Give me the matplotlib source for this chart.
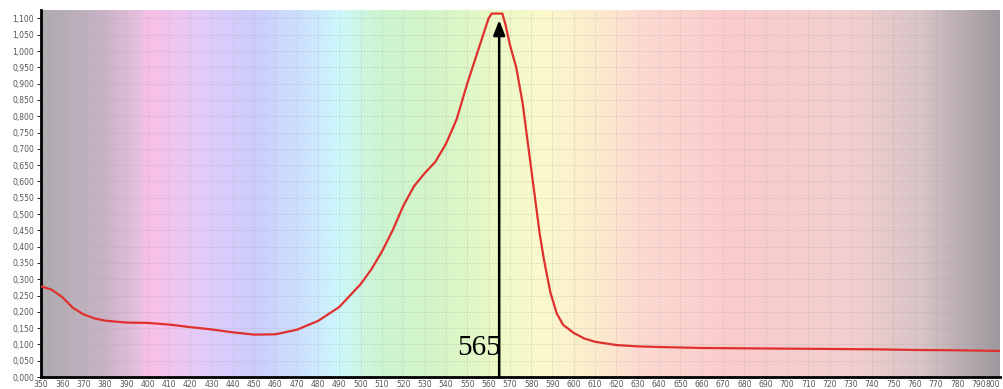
import numpy as np
import matplotlib.pyplot as plt
from matplotlib.colors import LinearSegmentedColormap
from matplotlib.ticker import MultipleLocator, FuncFormatter

# spectrum (wavelength nm, absorbance)
wavelength = [350, 355, 360, 365, 370, 375, 380, 390, 400, 410, 420, 430, 440,
              450, 460, 470, 480, 490, 500, 505, 510, 515, 520, 525, 530, 535,
              540, 545, 550, 555, 558, 560, 561.5, 566.5, 568, 570, 573, 576,
              578, 580, 582, 584, 586, 589, 592, 595, 600, 605, 610, 620, 630,
              640, 660, 680, 700, 720, 740, 760, 780, 800]
absorbance = [0.278, 0.268, 0.245, 0.212, 0.192, 0.180, 0.173, 0.167, 0.166,
              0.161, 0.153, 0.146, 0.137, 0.130, 0.131, 0.145, 0.172, 0.215,
              0.285, 0.330, 0.385, 0.450, 0.525, 0.585, 0.625, 0.660, 0.715,
              0.790, 0.900, 1.000, 1.060, 1.100, 1.115, 1.115, 1.080, 1.020,
              0.950, 0.840, 0.740, 0.640, 0.540, 0.440, 0.360, 0.260, 0.195,
              0.160, 0.135, 0.118, 0.108, 0.098, 0.094, 0.092, 0.089, 0.088,
              0.087, 0.086, 0.085, 0.083, 0.082, 0.080]
x_ticks = list(range(350, 801, 10))
peak_nm = 565
peak_label = "565"

# pastel spectrum backdrop
bg_stops = [(0.00, (0.68, 0.67, 0.69)), (0.06, (0.78, 0.70, 0.77)),
            (0.10, (0.90, 0.75, 0.87)), (0.11, (0.98, 0.75, 0.90)),
            (0.17, (0.88, 0.80, 0.98)), (0.22, (0.80, 0.80, 0.99)),
            (0.27, (0.80, 0.88, 0.99)), (0.31, (0.80, 0.97, 0.99)),
            (0.35, (0.80, 0.96, 0.82)), (0.42, (0.84, 0.96, 0.78)),
            (0.48, (0.93, 0.98, 0.78)), (0.52, (0.98, 0.98, 0.80)),
            (0.58, (0.99, 0.92, 0.80)), (0.63, (0.99, 0.85, 0.82)),
            (0.72, (0.98, 0.80, 0.80)), (0.85, (0.95, 0.81, 0.81)),
            (0.92, (0.85, 0.77, 0.78)), (1.00, (0.62, 0.60, 0.62))]
cmap = LinearSegmentedColormap.from_list("spec", bg_stops)

fig = plt.figure(figsize=(10.04, 3.89), dpi=100)
ax = fig.add_axes([41 / 1004, 12 / 389, 959 / 1004, 367 / 389])

ax.imshow(np.linspace(0, 1, 500)[None, :], cmap=cmap, aspect="auto",
          extent=[350, 800, 0, 1.126], zorder=0)

ax.plot(wavelength, absorbance, color="#e0302e", lw=1.6, zorder=3)

ax.annotate("", xy=(peak_nm, 1.095), xytext=(peak_nm, 0),
            arrowprops=dict(arrowstyle="-|>,head_width=0.35,head_length=0.9",
                            color="black", lw=1.8, shrinkA=0, shrinkB=0),
            zorder=4)
ax.text(peak_nm + 0.6, 0.068, peak_label, ha="right", va="baseline",
        fontsize=21, family="Liberation Serif", color="black", zorder=5)

ax.set_xlim(350, 800)
ax.set_ylim(0, 1.126)
ticks = ax.set_xticks(x_ticks, [str(t) for t in x_ticks])
ticks[-1].label1.set_ha("right")
ax.yaxis.set_major_locator(MultipleLocator(0.05))
ax.yaxis.set_major_formatter(FuncFormatter(lambda v, p: f"{v:.3f}".replace(".", ",")))
ax.tick_params(labelsize=5.5, labelcolor="#555555", width=0.6)
ax.tick_params(axis="y", length=3, pad=2)
ax.tick_params(axis="x", length=1, pad=1)
ax.grid(True, color="#a0a0a0", ls=(0, (2, 2)), lw=0.5, alpha=0.5, zorder=1)

for s in ["top", "right"]:
    ax.spines[s].set_visible(False)
for s in ["left", "bottom"]:
    ax.spines[s].set_linewidth(2)

fig.savefig("out.png", dpi=100)
